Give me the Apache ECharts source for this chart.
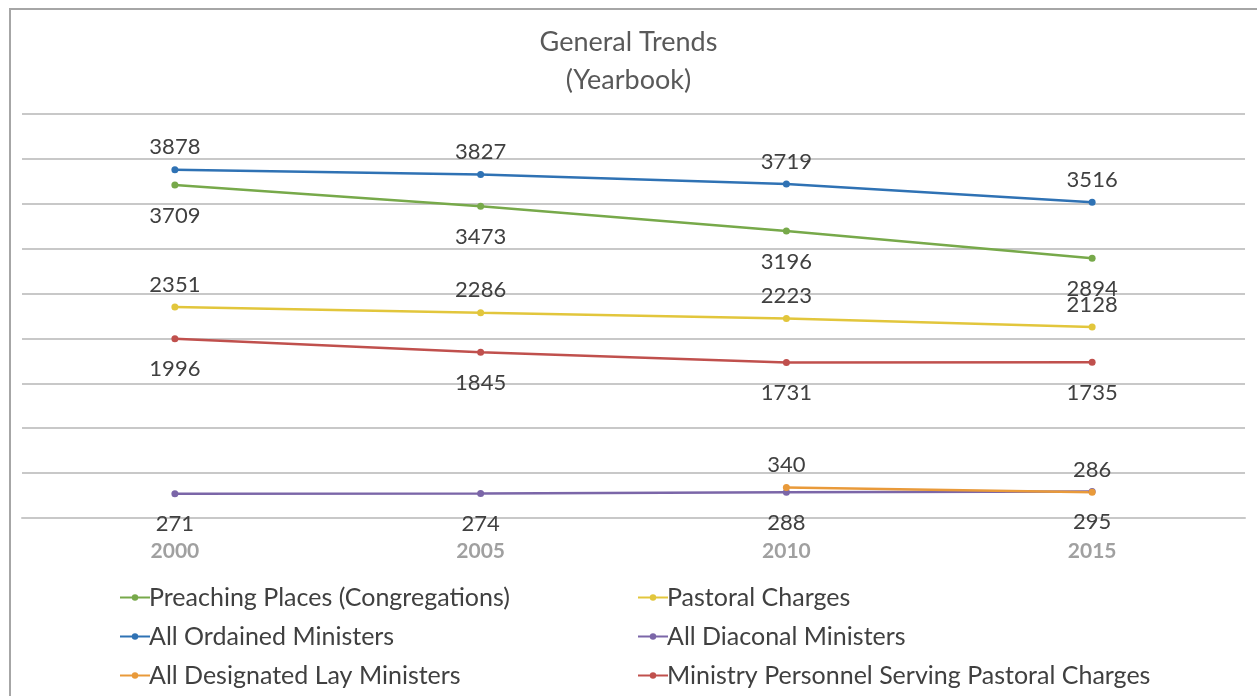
<!DOCTYPE html>
<html>
<head>
<meta charset="utf-8">
<script src="https://cdn.jsdelivr.net/npm/echarts@6/dist/echarts.min.js"></script>
<style>
html,body{margin:0;padding:0;background:#fff;}
#frame{position:absolute;left:9px;top:8px;width:1260px;height:700px;border-left:2px solid #a6a6a6;border-top:2px solid #a6a6a6;box-sizing:border-box;}
#chart{position:absolute;left:0;top:0;width:1257px;height:696px;}
</style>
</head>
<body>
<div id="frame"></div>
<div id="chart"></div>
<script>
const years = ['2000', '2005', '2010', '2015'];
const preachingPlaces = [3709, 3473, 3196, 2894];
const pastoralCharges = [2351, 2286, 2223, 2128];
const ordainedMinisters = [3878, 3827, 3719, 3516];
const diaconalMinisters = [271, 274, 288, 295];
const designatedLayMinisters = [null, null, 340, 286];
const ministryPersonnel = [1996, 1845, 1731, 1735];

const names = {
  preaching: 'Preaching Places (Congregations)',
  pastoral: 'Pastoral Charges',
  ordained: 'All Ordained Ministers',
  diaconal: 'All Diaconal Ministers',
  lay: 'All Designated Lay Ministers',
  personnel: 'Ministry Personnel Serving Pastoral Charges'
};

const FONT = 'Lato';
const chart = echarts.init(document.getElementById('chart'), null, {renderer: 'canvas'});

function mk(name, data, color, pos) {
  return {
    name: name,
    type: 'line',
    data: data,
    symbol: 'circle',
    symbolSize: 7,
    connectNulls: false,
    lineStyle: {color: color, width: 2.5},
    itemStyle: {color: color},
    label: {
      show: true,
      position: pos,
      distance: pos === 'top' ? 8 : 16,
      color: '#404040',
      fontFamily: FONT,
      fontSize: 22
    },
    emphasis: {disabled: true},
    animation: false
  };
}

const legendCommon = {
  orient: 'vertical',
  top: 585,
  height: 110,
  padding: 0,
  itemGap: 14,
  itemWidth: 30,
  itemHeight: 8,
  textStyle: {color: '#404040', fontFamily: FONT, fontSize: 25, lineHeight: 25, padding: [0, 0, 0, -6]},
  selectedMode: false
};

chart.setOption({
  backgroundColor: 'transparent',
  title: {
    text: 'General Trends\n(Yearbook)',
    left: 'center',
    top: 18,
    textStyle: {color: '#595959', fontFamily: FONT, fontSize: 27, fontWeight: 'normal', lineHeight: 38}
  },
  legend: [
    Object.assign({}, legendCommon, {left: 119, width: 500, data: [names.preaching, names.ordained, names.lay]}),
    Object.assign({}, legendCommon, {left: 637, width: 620, data: [names.pastoral, names.diaconal, names.personnel]})
  ],
  grid: {left: 22, right: 12, top: 114, bottom: 178, containLabel: false},
  xAxis: {
    type: 'category',
    data: years,
    boundaryGap: true,
    axisLine: {show: true, lineStyle: {color: '#c8c8c8', width: 2}},
    axisTick: {show: false},
    axisLabel: {color: '#a0a0a0', fontFamily: FONT, fontSize: 21, fontWeight: 'bold', margin: 23}
  },
  yAxis: {
    type: 'value',
    min: 0,
    max: 4500,
    interval: 500,
    axisLabel: {show: false},
    axisLine: {show: false},
    axisTick: {show: false},
    splitLine: {lineStyle: {color: '#c8c8c8', width: 2}}
  },
  series: [
    mk(names.preaching, preachingPlaces, '#77a94a', 'bottom'),
    mk(names.pastoral, pastoralCharges, '#e2c63c', 'top'),
    mk(names.ordained, ordainedMinisters, '#2f72b4', 'top'),
    mk(names.diaconal, diaconalMinisters, '#7b66a8', 'bottom'),
    mk(names.lay, designatedLayMinisters, '#e99a3a', 'top'),
    mk(names.personnel, ministryPersonnel, '#c0504d', 'bottom')
  ]
});
</script>
</body>
</html>
